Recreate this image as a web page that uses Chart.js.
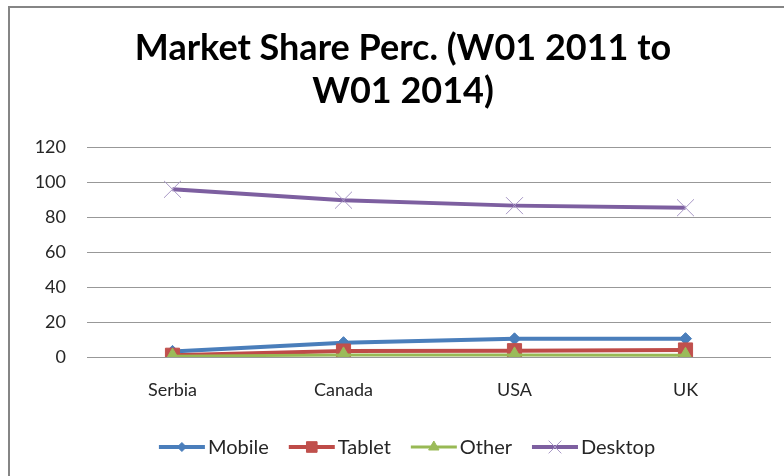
<!DOCTYPE html>
<html>
<head>
<meta charset="utf-8">
<script src="https://cdn.jsdelivr.net/npm/chart.js@4.4.1/dist/chart.umd.min.js"></script>
<style>
  html, body { margin: 0; padding: 0; background: #fff; }
  #wrap { position: relative; width: 784px; height: 476px; }
</style>
</head>
<body>
<div id="wrap"><canvas id="c" width="784" height="476"></canvas></div>
<script>
// Market share (%) per country, week 1 2011 to week 1 2014
const categories = ['Serbia', 'Canada', 'USA', 'UK'];
const mobile  = [3.2, 8.2, 10.4, 10.5];
const tablet  = [1.0, 3.4, 3.6, 4.0];
const other   = [0.5, 1.2, 1.2, 1.0];
const desktop = [95.8, 89.6, 86.5, 85.3];
const yTicks  = [0, 20, 40, 60, 80, 100, 120];
const titleLines = ['Market Share Perc. (W01 2011 to', 'W01 2014)'];

const FONT = 'Lato, "Open Sans", sans-serif';

const series = [
  { label: 'Mobile',  data: mobile,  color: '#4A7EBB', marker: '#4A7EBB', style: 'rectRot', radius: 6,  width: 4, order: 2, mBorder: 1 },
  { label: 'Tablet',  data: tablet,  color: '#BE4B48', marker: '#C0504D', style: 'rect',    radius: 10, width: 4, order: 1, mBorder: 1 },
  { label: 'Other',   data: other,   color: '#98B954', marker: '#9BBB59', style: 'triangle',radius: 8,  width: 3, order: 0, mBorder: 1 },
  { label: 'Desktop', data: desktop, color: '#7D5FA0', marker: '#A898C6', style: 'crossRot',radius: 12, width: 4, order: 3, mBorder: 1 }
];

// Frame around the whole chart (open on right/bottom edges of the page)
const framePlugin = {
  id: 'frame',
  beforeDraw(chart) {
    const ctx = chart.ctx;
    ctx.save();
    ctx.fillStyle = '#ffffff';
    ctx.fillRect(0, 0, chart.width, chart.height);
    ctx.strokeStyle = '#858585';
    ctx.lineWidth = 2;
    ctx.beginPath();
    ctx.moveTo(9, chart.height + 2);
    ctx.lineTo(9, 7);
    ctx.lineTo(chart.width + 2, 7);
    ctx.stroke();
    ctx.restore();
  }
};

// Two-line bold title, centred over the plot
const titlePlugin = {
  id: 'twoLineTitle',
  afterDraw(chart) {
    const ctx = chart.ctx;
    ctx.save();
    ctx.font = 'bold 36px ' + FONT;
    ctx.fillStyle = '#000';
    ctx.textAlign = 'center';
    ctx.textBaseline = 'alphabetic';
    const cx = 403;
    const baselines = [60, 103];
    titleLines.forEach((t, i) => ctx.fillText(t, cx, baselines[i]));
    ctx.restore();
  }
};

function drawMarker(ctx, s, x, y) {
  ctx.save();
  ctx.fillStyle = s.marker;
  ctx.strokeStyle = s.marker;
  ctx.lineWidth = s.mBorder;
  Chart.helpers.drawPoint(ctx, { pointStyle: s.style, radius: s.legendRadius, rotation: 0, borderWidth: s.mBorder }, x, y);
  ctx.restore();
}

// Legend at the bottom: line segment with marker, then the label
const legendPlugin = {
  id: 'lineLegend',
  afterDraw(chart) {
    const ctx = chart.ctx;
    const y = 447;
    const lineLen = 46, gapText = 3, gapItem = 20;
    ctx.save();
    ctx.font = '20px ' + FONT;
    const widths = series.map(s => lineLen + gapText + ctx.measureText(s.label).width);
    const total = widths.reduce((a, b) => a + b, 0) + gapItem * (series.length - 1);
    let x = 407 - total / 2;
    series.forEach((s, i) => {
      ctx.strokeStyle = s.color;
      ctx.lineWidth = s.width;
      ctx.beginPath();
      ctx.moveTo(x, y);
      ctx.lineTo(x + lineLen, y);
      ctx.stroke();
      drawMarker(ctx, Object.assign({}, s, { legendRadius: s.radius * 0.75 }), x + lineLen / 2, y);
      ctx.fillStyle = '#262626';
      ctx.textBaseline = 'middle';
      ctx.textAlign = 'left';
      ctx.fillText(s.label, x + lineLen + gapText, y + 1);
      x += widths[i] + gapItem;
    });
    ctx.restore();
  }
};

new Chart(document.getElementById('c'), {
  type: 'line',
  data: {
    labels: categories,
    datasets: series.map(s => ({
      label: s.label,
      data: s.data,
      borderColor: s.color,
      backgroundColor: s.marker,
      borderWidth: s.width,
      pointStyle: s.style,
      pointRadius: s.radius,
      pointBackgroundColor: s.marker,
      pointBorderColor: s.marker,
      pointBorderWidth: s.mBorder,
      tension: 0,
      order: s.order,
      fill: false
    }))
  },
  options: {
    responsive: false,
    animation: false,
    events: [],
    layout: { padding: { left: 0, right: 9, top: 147, bottom: 60 } },
    plugins: {
      legend: { display: false },
      tooltip: { enabled: false },
      title: { display: false }
    },
    scales: {
      x: {
        type: 'category',
        offset: true,
        grid: { display: false, drawTicks: false },
        border: { display: false },
        ticks: { color: '#262626', font: { family: FONT, size: 18 }, padding: 22, maxRotation: 0 },
        afterFit(s) { s.height = 59; }
      },
      y: {
        min: 0,
        max: 120,
        afterBuildTicks(s) { s.ticks = yTicks.map(v => ({ value: v })); },
        grid: { color: '#989898', lineWidth: 1, drawTicks: false },
        border: { display: false },
        ticks: { color: '#262626', font: { family: FONT, size: 18 }, padding: 21 },
        afterFit(s) { s.width = 87; }
      }
    }
  },
  plugins: [framePlugin, titlePlugin, legendPlugin]
});
</script>
</body>
</html>
